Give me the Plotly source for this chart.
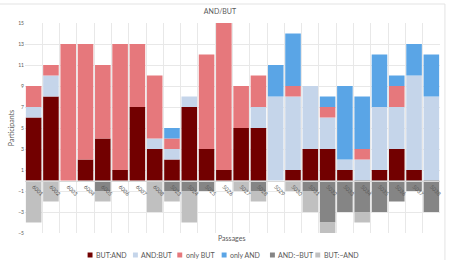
import plotly.graph_objects as go

passages = ["6001", "6002", "6003", "6004", "6005", "6006", "6007", "6008",
            "5023", "5024", "5025", "5026", "5027", "5028", "5029", "5030",
            "5031", "5032", "5033", "5034", "5035", "5036", "5037", "5038"]

but_and = [6, 8, 0, 2, 4, 1, 7, 3, 2, 7, 3, 1, 5, 5, 0, 1, 3, 3, 1, 0, 1, 3, 1, 0]
and_but = [1, 2, 0, 0, 0, 0, 0, 1, 1, 1, 0, 0, 0, 2, 8, 7, 6, 3, 1, 2, 6, 4, 9, 8]
only_but = [2, 1, 13, 11, 7, 12, 6, 6, 1, 0, 9, 14, 4, 3, 0, 1, 0, 1, 0, 1, 0, 2, 0, 0]
only_and = [0, 0, 0, 0, 0, 0, 0, 0, 1, 0, 0, 0, 0, 0, 3, 5, 0, 1, 7, 5, 5, 1, 3, 4]
and_not_but = [0, 0, 0, 0, -1, 0, 0, 0, -1, -1, -1, 0, 0, -1, 0, 0, -1, -4, -3, -3, -3, -2, -1, -3]
but_not_and = [-4, -2, 0, 0, -1, 0, 0, -3, -1, -3, 0, 0, -1, -1, 0, -1, -2, -1, 0, -1, 0, 0, 0, 0]

series = [
    ("BUT:AND", but_and, "#720000"),
    ("AND:BUT", and_but, "#c5d5ea"),
    ("only BUT", only_but, "#e6787c"),
    ("only AND", only_and, "#5aa5e6"),
    ("AND:~BUT", and_not_but, "#858585"),
    ("BUT:~AND", but_not_and, "#c0c0c0"),
]

FONT = "Lato"
GREY = "#595959"
W, H = 453, 260
ML, MR, MT, MB = 21, 11, 23, 27
PW, PH = W - ML - MR, H - MT - MB


def px_x(px):
    return (px - ML) / PW


def px_y(py):
    return (H - MB - py) / PH


fig = go.Figure()
for name, vals, color in series:
    fig.add_trace(go.Bar(x=passages, y=vals, name=name, marker_color=color,
                         marker_line_width=0, showlegend=False))

fig.update_layout(
    width=W, height=H,
    margin=dict(l=ML, r=MR, t=MT, b=MB),
    barmode="relative", bargap=0.1,
    plot_bgcolor="white", paper_bgcolor="white",
    font=dict(family=FONT, color=GREY, size=7),
    title=dict(text="AND/BUT", x=220 / W, xref="container", xanchor="center",
               y=1 - 12 / H, yref="container", yanchor="middle",
               font=dict(size=7, color=GREY, family=FONT)),
    showlegend=False,
)

fig.update_xaxes(type="category", anchor="free", position=0.25,
                 tickangle=45, tickson="boundaries", ticks="",
                 showgrid=True, gridcolor="#e8e8e8", gridwidth=1,
                 showline=True, linecolor="#d9d9d9", linewidth=1,
                 tickfont=dict(size=5.5, color=GREY, family=FONT))
fig.update_yaxes(range=[-5, 15], tick0=1, dtick=2, showgrid=True,
                 gridcolor="#e8e8e8", gridwidth=1, zeroline=False,
                 ticks="", tickfont=dict(size=5, color=GREY, family=FONT),
                 title=dict(text="Participants", standoff=2,
                            font=dict(size=7, color=GREY, family=FONT)))

fig.add_annotation(text="Passages", xref="paper", yref="paper",
                   x=px_x(230), y=px_y(238),
                   showarrow=False, font=dict(size=7, color=GREY, family=FONT),
                   xanchor="center", yanchor="middle")

# legend (drawn as layout decoration, compact like the original)
legend_px = [87, 133, 178, 223, 272, 318]
legend_y = 255
for (name, _, color), lx in zip(series, legend_px):
    fig.add_shape(type="rect", xref="paper", yref="paper",
                  x0=px_x(lx - 2.5), x1=px_x(lx + 2.5),
                  y0=px_y(legend_y + 2.5), y1=px_y(legend_y - 2.5),
                  line=dict(width=0), fillcolor=color)
    fig.add_annotation(text=name, xref="paper", yref="paper",
                       x=px_x(lx + 4), y=px_y(legend_y), showarrow=False,
                       xanchor="left", yanchor="middle",
                       font=dict(size=7, color=GREY, family=FONT))

fig.add_shape(type="rect", xref="paper", yref="paper",
              x0=-0.08, x1=px_x(447), y0=-0.3, y1=px_y(4),
              line=dict(color="#e3e3e3", width=1), fillcolor="rgba(0,0,0,0)",
              layer="below")

fig.write_html("out.html")
